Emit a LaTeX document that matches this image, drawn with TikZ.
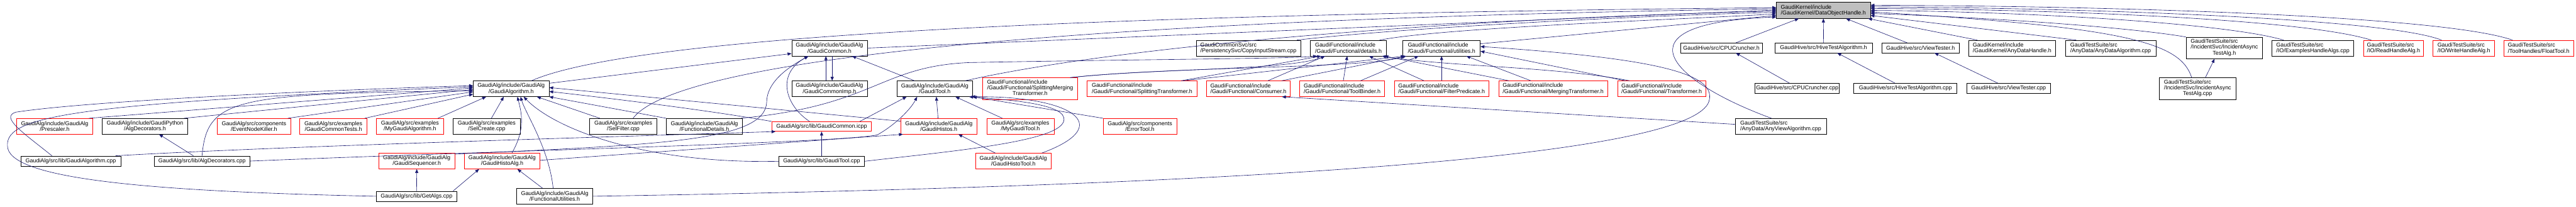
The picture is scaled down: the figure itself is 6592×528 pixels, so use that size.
\documentclass[tikz,border=0pt]{standalone}
\usepackage{fontspec}
\setmainfont{Liberation Sans}
\usepackage{xcolor}
\definecolor{dxEdge}{RGB}{25, 25, 112}
\definecolor{dxRoot}{RGB}{191, 191, 191}
\definecolor{dxTrunc}{RGB}{255, 0, 0}
\usepackage{tikz}
\usetikzlibrary{arrows.meta}
\newcommand{\threeLines}[3]{\begin{tabular}{@{}l@{}}#1\\#2\\\multicolumn{1}{@{}c@{}}{#3}\end{tabular}}

\begin{document}
\begin{tikzpicture}[
    x=1pt, y=-1pt,
    fileNode/.style={
        rectangle,
        draw=black, line width=1pt,
        fill=white, text=black,
        font=\fontsize{14.4}{15}\selectfont,
        align=center, inner sep=0pt
    },
    truncNode/.style={fileNode, draw=dxTrunc},
    rootNode/.style={fileNode, fill=dxRoot},
    inclArrow/.style={
        -{Triangle[length=10pt, width=8pt]}, line width=1pt, draw=dxEdge
    }
]
    \useasboundingbox (0,0) rectangle (6592,528);

    % Root: the included header
    \node[rootNode, align=left, minimum width=240pt, minimum height=41pt] (dataHandle) at (4666,26.5) {GaudiKernel/include\\/GaudiKernel/DataObjectHandle.h};

    % Row 1
    \node[fileNode, minimum width=193pt, minimum height=40pt] (gaudiCommonH) at (2122.5,123) {GaudiAlg/include/GaudiAlg\\/GaudiCommon.h};
    \node[fileNode, align=left, minimum width=267pt, minimum height=40pt] (copyStream) at (3194.5,123) {GaudiCommonSvc/src\\/PersistencySvc/CopyInputStream.cpp};
    \node[fileNode, align=left, minimum width=195pt, minimum height=40pt] (funcDetails) at (3450.5,123) {GaudiFunctional/include\\/Gaudi/Functional/details.h};
    \node[fileNode, align=left, minimum width=198pt, minimum height=40pt] (funcUtils) at (3689,123) {GaudiFunctional/include\\/Gaudi/Functional/utilities.h};
    \node[fileNode, minimum width=210pt, minimum height=25pt] (cpuCruncherH) at (4405,122.5) {GaudiHive/src/CPUCruncher.h};
    \node[fileNode, minimum width=249pt, minimum height=25pt] (hiveTestH) at (4666.5,122.5) {GaudiHive/src/HiveTestAlgorithm.h};
    \node[fileNode, minimum width=199pt, minimum height=25pt] (viewTesterH) at (4914.5,122.5) {GaudiHive/src/ViewTester.h};
    \node[fileNode, align=left, minimum width=222pt, minimum height=40pt] (anyDataH) at (5149,123) {GaudiKernel/include\\/GaudiKernel/AnyDataHandle.h};
    \node[fileNode, align=left, minimum width=232pt, minimum height=40pt] (anyDataAlg) at (5401,123) {GaudiTestSuite/src\\/AnyData/AnyDataAlgorithm.cpp};
    \node[fileNode, minimum width=196pt, minimum height=55pt] (incidentH) at (5692,122.5) {\threeLines{GaudiTestSuite/src}{/IncidentSvc/IncidentAsync}{TestAlg.h}};
    \node[fileNode, align=left, minimum width=209pt, minimum height=40pt] (examplesHandle) at (5918.5,123) {GaudiTestSuite/src\\/IO/ExamplesHandleAlgs.cpp};
    \node[truncNode, align=left, minimum width=154pt, minimum height=40pt] (readHandle) at (6125,123) {GaudiTestSuite/src\\/IO/ReadHandleAlg.h};
    \node[truncNode, align=left, minimum width=158pt, minimum height=40pt] (writeHandle) at (6305,123) {GaudiTestSuite/src\\/IO/WriteHandleAlg.h};
    \node[truncNode, align=left, minimum width=179pt, minimum height=40pt] (floatTool) at (6496.5,123) {GaudiTestSuite/src\\/ToolHandles/FloatTool.h};

    % Row 2
    \node[fileNode, minimum width=194pt, minimum height=40pt] (gaudiAlgH) at (1308,227) {GaudiAlg/include/GaudiAlg\\/GaudiAlgorithm.h};
    \node[fileNode, minimum width=193pt, minimum height=40pt] (gaudiCommonImp) at (2122.5,227) {GaudiAlg/include/GaudiAlg\\/GaudiCommonImp.h};
    \node[fileNode, minimum width=194pt, minimum height=40pt] (gaudiToolH) at (2392,227) {GaudiAlg/include/GaudiAlg\\/GaudiTool.h};
    \node[truncNode, minimum width=244pt, minimum height=55pt] (splitMerge) at (2636,226.5) {\threeLines{GaudiFunctional/include}{/Gaudi/Functional/SplittingMerging}{Transformer.h}};
    \node[truncNode, align=left, minimum width=281pt, minimum height=40pt] (splitTrans) at (2922.5,227) {GaudiFunctional/include\\/Gaudi/Functional/SplittingTransformer.h};
    \node[truncNode, align=left, minimum width=215pt, minimum height=40pt] (consumerH) at (3194.5,227) {GaudiFunctional/include\\/Gaudi/Functional/Consumer.h};
    \node[truncNode, align=left, minimum width=217pt, minimum height=40pt] (toolBinder) at (3434.5,227) {GaudiFunctional/include\\/Gaudi/Functional/ToolBinder.h};
    \node[truncNode, align=left, minimum width=242pt, minimum height=40pt] (filterPred) at (3689,227) {GaudiFunctional/include\\/Gaudi/Functional/FilterPredicate.h};
    \node[truncNode, align=left, minimum width=279pt, minimum height=40pt] (mergeTrans) at (3974.5,227) {GaudiFunctional/include\\/Gaudi/Functional/MergingTransformer.h};
    \node[truncNode, align=left, minimum width=226pt, minimum height=40pt] (transH) at (4252,227) {GaudiFunctional/include\\/Gaudi/Functional/Transformer.h};
    \node[fileNode, minimum width=216pt, minimum height=26pt] (cpuCruncherCpp) at (4599,226) {GaudiHive/src/CPUCruncher.cpp};
    \node[fileNode, minimum width=264pt, minimum height=26pt] (hiveTestCpp) at (4876,226) {GaudiHive/src/HiveTestAlgorithm.cpp};
    \node[fileNode, minimum width=214pt, minimum height=26pt] (viewTesterCpp) at (5140,226) {GaudiHive/src/ViewTester.cpp};
    \node[fileNode, minimum width=195pt, minimum height=55pt] (incidentCpp) at (5623.5,226.5) {\threeLines{GaudiTestSuite/src}{/IncidentSvc/IncidentAsync}{TestAlg.cpp}};

    % Row 3
    \node[truncNode, minimum width=194pt, minimum height=40pt] (prescalerH) at (140,323) {GaudiAlg/include/GaudiAlg\\/Prescaler.h};
    \node[fileNode, minimum width=218pt, minimum height=40pt] (algDecoratorsH) at (371,323) {GaudiAlg/include/GaudiPython\\/AlgDecorators.h};
    \node[truncNode, minimum width=188pt, minimum height=40pt] (eventNodeKiller) at (650,323) {GaudiAlg/src/components\\/EventNodeKiller.h};
    \node[truncNode, minimum width=172pt, minimum height=40pt] (commonTests) at (853,323) {GaudiAlg/src/examples\\/GaudiCommonTests.h};
    \node[truncNode, minimum width=172pt, minimum height=40pt] (myGaudiAlg) at (1049,323) {GaudiAlg/src/examples\\/MyGaudiAlgorithm.h};
    \node[fileNode, minimum width=171pt, minimum height=40pt] (selCreate) at (1245.5,323) {GaudiAlg/src/examples\\/SelCreate.cpp};
    \node[fileNode, minimum width=172pt, minimum height=40pt] (selFilter) at (1595,323) {GaudiAlg/src/examples\\/SelFilter.cpp};
    \node[fileNode, minimum width=195pt, minimum height=40pt] (funcDetailsAlg) at (1802.5,323) {GaudiAlg/include/GaudiAlg\\/FunctionalDetails.h};
    \node[truncNode, minimum width=255pt, minimum height=25pt] (gaudiCommonIcpp) at (2102.5,323.5) {GaudiAlg/src/lib/GaudiCommon.icpp};
    \node[truncNode, minimum width=195pt, minimum height=40pt] (gaudiHistosH) at (2402.5,323) {GaudiAlg/include/GaudiAlg\\/GaudiHistos.h};
    \node[truncNode, minimum width=172pt, minimum height=40pt] (myGaudiTool) at (2611,323) {GaudiAlg/src/examples\\/MyGaudiTool.h};
    \node[truncNode, minimum width=188pt, minimum height=40pt] (errorTool) at (2917,323) {GaudiAlg/src/components\\/ErrorTool.h};
    \node[fileNode, align=left, minimum width=234pt, minimum height=40pt] (anyViewAlg) at (4557,323) {GaudiTestSuite/src\\/AnyData/AnyViewAlgorithm.cpp};

    % Row 4
    \node[fileNode, minimum width=256pt, minimum height=26pt] (gaudiAlgCpp) at (181,412) {GaudiAlg/src/lib/GaudiAlgorithm.cpp};
    \node[fileNode, minimum width=246pt, minimum height=26pt] (algDecoratorsCpp) at (517,412) {GaudiAlg/src/lib/AlgDecorators.cpp};
    \node[truncNode, minimum width=195pt, minimum height=40pt] (sequencerH) at (1066.5,412) {GaudiAlg/include/GaudiAlg\\/GaudiSequencer.h};
    \node[truncNode, minimum width=194pt, minimum height=40pt] (histoAlgH) at (1285,412) {GaudiAlg/include/GaudiAlg\\/GaudiHistoAlg.h};
    \node[fileNode, minimum width=219pt, minimum height=25pt] (gaudiToolCpp) at (2102.5,412.5) {GaudiAlg/src/lib/GaudiTool.cpp};
    \node[truncNode, minimum width=194pt, minimum height=40pt] (histoToolH) at (2593,412) {GaudiAlg/include/GaudiAlg\\/GaudiHistoTool.h};

    % Row 5
    \node[fileNode, minimum width=206pt, minimum height=26pt] (getAlgsCpp) at (1066,502) {GaudiAlg/src/lib/GetAlgs.cpp};
    \node[fileNode, minimum width=195pt, minimum height=40pt] (funcUtilsAlg) at (1419.5,502) {GaudiAlg/include/GaudiAlg\\/FunctionalUtilities.h};

    % Direct includers of the root
    \draw[inclArrow] ([xshift=52pt]gaudiAlgH.north) .. controls (1650,80) and (3000,35) .. ([yshift=7pt]dataHandle.west);
    \draw[inclArrow] ([xshift=25pt]selFilter.north) .. controls (1750,130) and (3000,45) .. ([yshift=4pt]dataHandle.west);
    \draw[inclArrow] (gaudiCommonH.east) -- ([yshift=1pt]dataHandle.west);
    \draw[inclArrow] ([xshift=78pt]gaudiToolH.north) .. controls (2900,110) and (3800,45) .. ([yshift=-2pt]dataHandle.west);
    \draw[inclArrow] ([xshift=-10pt]copyStream.north east) .. controls (3600,70) and (4200,40) .. ([yshift=-5pt]dataHandle.west);
    \draw[inclArrow] ([xshift=80pt]funcDetails.north) .. controls (3700,70) and (4300,50) .. ([yshift=-9pt]dataHandle.west);
    \draw[inclArrow] ([yshift=11pt]funcUtils.east) -- ([yshift=-13pt]dataHandle.west);
    \draw[inclArrow] ([xshift=-24pt]anyViewAlg.north) .. controls (4280,210) and (4120,60) .. ([yshift=-17pt]dataHandle.west);
    \draw[inclArrow] ([xshift=37pt]cpuCruncherH.north) -- ([xshift=-63pt]dataHandle.south);
    \draw[inclArrow] (hiveTestH.north) -- (dataHandle.south);
    \draw[inclArrow] ([xshift=-34pt]viewTesterH.north) -- ([xshift=58pt]dataHandle.south);
    \draw[inclArrow] ([xshift=-89pt]anyDataH.north) -- ([xshift=-6pt]dataHandle.south east);
    \draw[inclArrow] ([xshift=-88pt]anyDataAlg.north) -- ([yshift=-13pt]dataHandle.east);
    \draw[inclArrow] (incidentH.north west) .. controls (5450,70) and (5100,45) .. ([yshift=-8pt]dataHandle.east);
    \draw[inclArrow] ([xshift=-15pt]incidentCpp.north) .. controls (5580,110) and (5450,70) .. ([yshift=-4pt]dataHandle.east);
    \draw[inclArrow] ([xshift=-75pt]examplesHandle.north) .. controls (5700,60) and (5200,30) .. (dataHandle.east);
    \draw[inclArrow] ([xshift=-57pt]readHandle.north) .. controls (5900,50) and (5300,25) .. ([yshift=5pt]dataHandle.east);
    \draw[inclArrow] ([xshift=-57pt]writeHandle.north) .. controls (6100,45) and (5300,20) .. ([yshift=9pt]dataHandle.east);
    \draw[inclArrow] ([xshift=-67pt]floatTool.north) .. controls (6250,40) and (5400,15) .. ([yshift=13pt]dataHandle.east);

    % GaudiHive and test suite pairs
    \draw[inclArrow] ([xshift=-20pt]cpuCruncherCpp.north) -- ([xshift=37pt]cpuCruncherH.south);
    \draw[inclArrow] ([xshift=-27pt]hiveTestCpp.north) -- ([xshift=35pt]hiveTestH.south);
    \draw[inclArrow] ([xshift=-28pt]viewTesterCpp.north) -- ([xshift=36pt]viewTesterH.south);
    \draw[inclArrow] ([xshift=20pt]incidentCpp.north) -- ([xshift=-25pt]incidentH.south);

    % GaudiAlgorithm.h includers
    \draw[inclArrow] ([xshift=-10pt]prescalerH.north east) -- ([yshift=2pt]gaudiAlgH.west);
    \draw[inclArrow] ([xshift=-10pt]algDecoratorsH.north east) -- ([yshift=-2pt]gaudiAlgH.west);
    \draw[inclArrow] ([xshift=-8pt]eventNodeKiller.north east) -- ([yshift=-8pt]gaudiAlgH.west);
    \draw[inclArrow] ([xshift=-6pt]commonTests.north east) -- ([yshift=-14pt]gaudiAlgH.west);
    \draw[inclArrow] ([xshift=-15pt]myGaudiAlg.north east) -- ([xshift=-64pt]gaudiAlgH.south);
    \draw[inclArrow] ([xshift=12pt]selCreate.north) -- ([xshift=-19pt]gaudiAlgH.south);
    \draw[inclArrow] ([xshift=-48pt]gaudiAlgCpp.north) .. controls (60,340) and (0,300) .. (40,287) .. controls (200,262) and (700,235) .. ([yshift=8pt]gaudiAlgH.west);
    \draw[inclArrow] (getAlgsCpp.west) .. controls (400,490) and (40,460) .. (20,380) .. controls (5,300) and (150,265) .. ([yshift=5pt]gaudiAlgH.west);
    \draw[inclArrow] (algDecoratorsCpp.north) .. controls (530,250) and (600,240) .. ([yshift=-5pt]gaudiAlgH.west);
    \draw[inclArrow] ([xshift=25pt]histoAlgH.north) .. controls (1345,330) and (1335,290) .. ([xshift=16pt]gaudiAlgH.south);
    \draw[inclArrow] ([xshift=-4pt]funcUtilsAlg.north) .. controls (1405,380) and (1345,290) .. ([xshift=24pt]gaudiAlgH.south);
    \draw[inclArrow] (gaudiToolCpp.west) .. controls (1650,420) and (1420,330) .. ([xshift=32pt]gaudiAlgH.south);
    \draw[inclArrow] ([xshift=-60pt]selFilter.north) -- ([xshift=66pt]gaudiAlgH.south);
    \draw[inclArrow] (funcDetailsAlg.north west) -- (gaudiAlgH.south east);
    \draw[inclArrow] (gaudiCommonIcpp.north west) .. controls (1800,280) and (1550,250) .. ([yshift=-7pt]gaudiAlgH.east);
    \draw[inclArrow] ([yshift=13pt]gaudiHistosH.west) -- ([yshift=3pt]gaudiAlgH.east);

    % GaudiCommon.h and GaudiTool.h
    \draw[inclArrow] ([yshift=14pt]gaudiAlgH.east) -- ([yshift=-14pt]gaudiCommonH.west);
    \draw[inclArrow] ([xshift=-9pt]gaudiCommonImp.north) -- ([xshift=-9pt]gaudiCommonH.south);
    \draw[inclArrow] ([xshift=7pt]gaudiCommonH.south) -- ([xshift=7pt]gaudiCommonImp.north);
    \draw[inclArrow] ([xshift=-52pt]gaudiToolH.north) -- ([xshift=-39pt]gaudiCommonH.south east);
    \draw[inclArrow] ([yshift=18pt]sequencerH.east) .. controls (1700,370) and (1960,360) .. (1962,260) .. controls (1963,200) and (2040,160) .. ([xshift=-54pt]gaudiCommonH.south);
    \draw[inclArrow] ([xshift=-31pt]gaudiCommonIcpp.north) .. controls (2010,270) and (1985,190) .. ([xshift=-54pt]gaudiCommonH.south);
    \draw[inclArrow] ([xshift=-30pt]gaudiCommonIcpp.north east) -- ([xshift=-72pt]gaudiToolH.south);
    \draw[inclArrow] (gaudiToolCpp.north) -- (gaudiCommonIcpp.south);
    \draw[inclArrow] (gaudiToolCpp.east) .. controls (2450,385) and (2740,360) .. (2722,300) .. controls (2712,265) and (2580,255) .. ([xshift=88pt]gaudiToolH.south);
    \draw[inclArrow] ([xshift=73pt]histoToolH.north) .. controls (2860,320) and (2740,245) .. ([xshift=-4pt]gaudiToolH.south east);
    \draw[inclArrow] ([xshift=-46pt]histoToolH.north) -- ([xshift=50pt]gaudiHistosH.south);
    \draw[inclArrow] ([yshift=2pt]histoAlgH.east) -- ([xshift=6pt]gaudiHistosH.south west);
    \draw[inclArrow] ([xshift=-2pt]gaudiHistosH.north) -- ([xshift=4pt]gaudiToolH.south);
    \draw[inclArrow] ([xshift=-46pt]myGaudiTool.north) -- ([xshift=53pt]gaudiToolH.south);
    \draw[inclArrow] (errorTool.north west) -- (gaudiToolH.south east);
    \draw[inclArrow] (algDecoratorsCpp.east) .. controls (1300,385) and (2150,365) .. (2245,345) .. controls (2290,320) and (2330,280) .. ([xshift=-45pt]gaudiToolH.south);
    \draw[inclArrow] ([xshift=-14pt]gaudiAlgCpp.north east) .. controls (700,375) and (1500,352) .. ([xshift=10pt]gaudiCommonIcpp.south west);

    % lower GaudiAlg files
    \draw[inclArrow] (getAlgsCpp.north) -- (sequencerH.south);
    \draw[inclArrow] ([xshift=-10pt]getAlgsCpp.north east) -- ([xshift=-59pt]histoAlgH.south);
    \draw[inclArrow] ([xshift=-31pt]funcUtilsAlg.north) -- ([xshift=39pt]histoAlgH.south);
    \draw[inclArrow] ([xshift=-22pt]algDecoratorsCpp.north) -- ([xshift=36pt]algDecoratorsH.south);

    % Gaudi/Functional headers
    \draw[inclArrow] ([xshift=-5pt]funcDetailsAlg.north east) .. controls (2240,270) and (2250,170) .. (2480,160) .. controls (2900,152) and (3300,150) .. ([xshift=-80pt]funcDetails.south);
    \draw[inclArrow] ([xshift=-20pt]splitMerge.north east) .. controls (2950,175) and (3300,180) .. ([xshift=-60pt]funcDetails.south);
    \draw[inclArrow] ([xshift=-20pt]splitMerge.north east) .. controls (3000,170) and (3500,175) .. ([xshift=-94pt]funcUtils.south);
    \draw[inclArrow] ([xshift=100pt]splitTrans.north) -- ([xshift=-70pt]funcDetails.south);
    \draw[inclArrow] ([xshift=105pt]splitTrans.north) -- ([xshift=-94pt]funcUtils.south);
    \draw[inclArrow] ([xshift=50pt]consumerH.north) -- ([xshift=-60pt]funcDetails.south);
    \draw[inclArrow] ([xshift=85pt]consumerH.north) -- ([xshift=-90pt]funcUtils.south);
    \draw[inclArrow] ([xshift=3pt]toolBinder.north) -- ([xshift=-3pt]funcDetails.south);
    \draw[inclArrow] ([xshift=47pt]toolBinder.north) -- ([xshift=-59pt]funcUtils.south);
    \draw[inclArrow] ([xshift=-45pt]filterPred.north) -- ([xshift=53pt]funcDetails.south);
    \draw[inclArrow] (filterPred.north) -- (funcUtils.south);
    \draw[inclArrow] ([xshift=-113pt]mergeTrans.north) -- ([xshift=-6pt]funcDetails.south east);
    \draw[inclArrow] ([xshift=-57pt]mergeTrans.north) -- ([xshift=-36pt]funcUtils.south east);
    \draw[inclArrow] ([xshift=-82pt]transH.north) .. controls (3980,170) and (3700,170) .. ([xshift=-12pt]funcDetails.south east);
    \draw[inclArrow] ([xshift=-93pt]transH.north) -- ([yshift=-8pt]funcUtils.east);
    \draw[inclArrow] (funcUtilsAlg.east) .. controls (3500,470) and (4330,380) .. (4373,260) .. controls (4395,190) and (4250,150) .. ([yshift=4pt]funcUtils.east);
    \draw[inclArrow] ([yshift=5pt]anyViewAlg.west) -- ([xshift=-22pt]consumerH.south east);

\end{tikzpicture}
\end{document}
